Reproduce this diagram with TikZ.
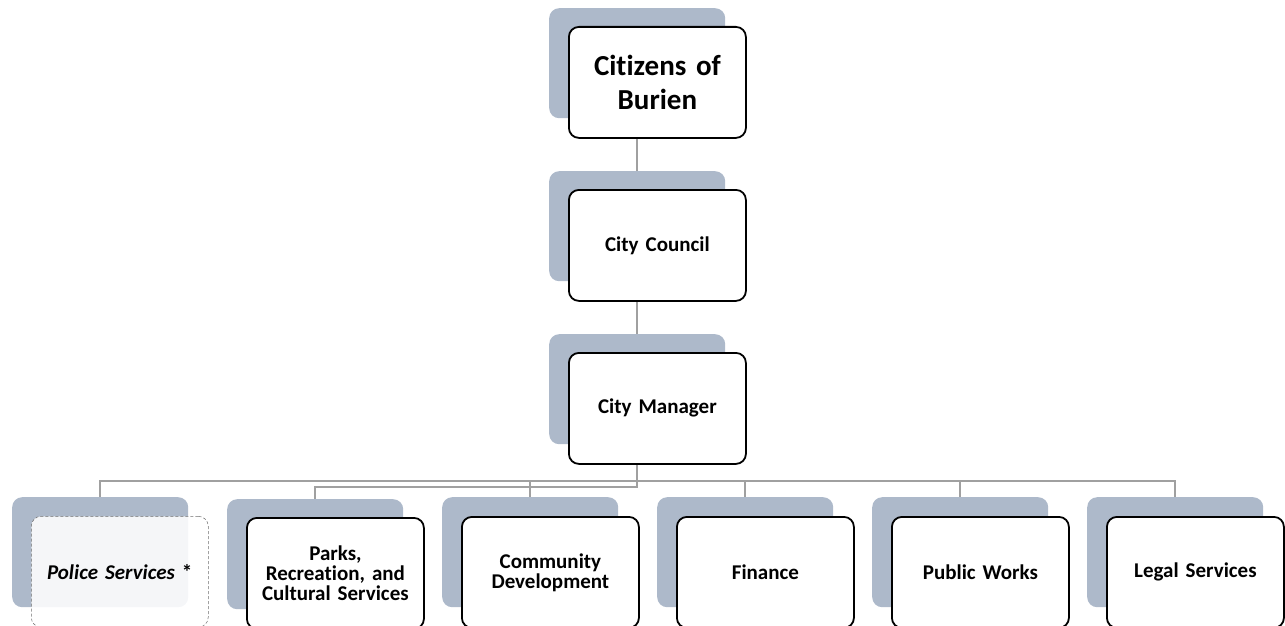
\documentclass[tikz,border=0pt]{standalone}
\usepackage{fontspec}
\setmainfont{Carlito}[Ligatures=CommonOff, WordSpace=0.8]
\definecolor{shadowc}{HTML}{ADB9CA}
\definecolor{linec}{HTML}{A0A0A0}
\definecolor{dashc}{HTML}{707070}
\begin{document}
\begin{tikzpicture}[x=1pt,y=-1pt,
  shadowbox/.style={rectangle, rounded corners=10pt, fill=shadowc, draw=none,
    minimum width=176pt, minimum height=110pt, anchor=north west, inner sep=0pt},
  frontbox/.style={rectangle, rounded corners=10pt, fill=white, draw=black, line width=1.8pt,
    minimum width=177pt, minimum height=111pt, anchor=north west, inner sep=0pt,
    align=center, text width=165pt, font=\bfseries\fontsize{21}{20}\selectfont},
  policebox/.style={rectangle, rounded corners=10pt, fill=white, fill opacity=0.88, text opacity=1,
    draw=dashc, densely dashed, line width=0.5pt,
    minimum width=177pt, minimum height=111pt, anchor=north west, inner sep=0pt,
    align=center, text width=165pt, font=\bfseries\fontsize{21}{20}\selectfont},
  conn/.style={draw=linec, line width=1.5pt}
]
\useasboundingbox (0,0) rectangle (1285,626);

% top column
\node[shadowbox] (cits) at (549,8) {};
\node[frontbox, font=\bfseries\fontsize{29}{34}\selectfont] (cit) at (568,26) {Citizens of\\Burien};
\node[shadowbox] (ccs) at (549,171) {};
\node[frontbox] (cc) at (568,189) {City Council};
\node[shadowbox] (cms) at (549,334) {};
\node[frontbox] (cm) at (568,352) {City Manager};

% bottom row
\node[shadowbox] (pols) at (12,497) {};
\node[policebox] (pol) at (31,516) {\textit{Police Services} *};
\node[shadowbox] (parks) at (227,499) {};
\node[frontbox] (par) at (246,517) {Parks,\\Recreation, and\\Cultural Services};
\node[shadowbox] (coms) at (442,497) {};
\node[frontbox] (com) at (461,516) {Community\\Development};
\node[shadowbox] (fins) at (657,497) {};
\node[frontbox] (fin) at (676,516) {Finance};
\node[shadowbox] (pws) at (872,497) {};
\node[frontbox] (pw) at (891,516) {Public Works};
\node[shadowbox] (legs) at (1087,497) {};
\node[frontbox] (leg) at (1106,516) {Legal Services};

% connectors
\coordinate (hub) at (cms.center |- 0,481);
\draw[conn] (cms.center |- cit.south) -- (ccs.north);
\draw[conn] (cms.center |- cc.south) -- (cms.north);
\draw[conn] (cms.center |- cm.south) -- (hub);
\draw[conn] (hub) -| (pols.north);
\draw[conn] (hub) -- ++(0,6) -| (parks.north);
\draw[conn] (hub) -| (coms.north);
\draw[conn] (hub) -| (fins.north);
\draw[conn] (hub) -| (pws.north);
\draw[conn] (hub) -| (legs.north);
\end{tikzpicture}
\end{document}
